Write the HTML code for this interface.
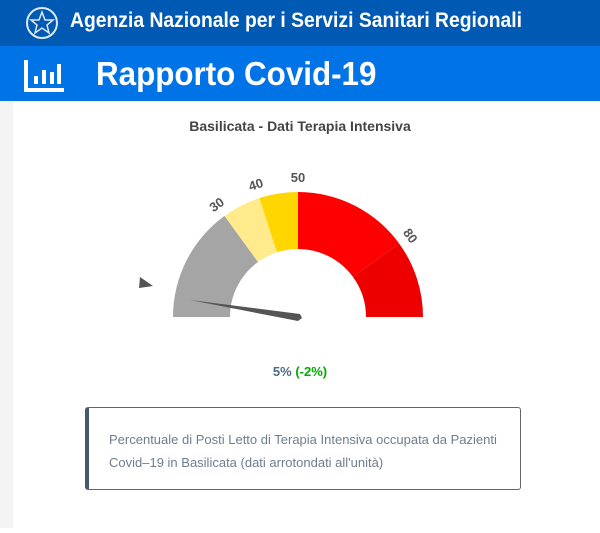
<!DOCTYPE html>
<html><head><meta charset="utf-8"><style>
body{margin:0;width:600px;height:533px;background:#fff;font-family:"Liberation Sans",sans-serif;position:relative;overflow:hidden}
.h1{position:absolute;left:0;top:0;width:600px;height:46px;background:#0059b3;color:#fff}
.h2{position:absolute;left:0;top:46px;width:600px;height:55px;background:#0073e6;color:#fff}
.strip{position:absolute;left:0;top:101px;width:13px;height:427px;background:#f4f4f4}
.box{position:absolute;left:85px;top:407px;width:431px;height:81px;border:1.5px solid #666;border-left:4px solid #455a70;border-radius:3px}
</style></head><body>
<div class="h1">
<svg style="position:absolute;left:24px;top:3px" width="36" height="40"><circle cx="18" cy="20" r="15" fill="none" stroke="#dfe8f3" stroke-width="2"/><polygon points="18,9 21,17 29,17 23,22 25,30 18,25 11,30 13,22 7,17 15,17" fill="none" stroke="#dfe8f3" stroke-width="1.5"/></svg>
<div style="position:absolute;left:70px;top:9px;font-size:21px;font-weight:bold;transform:scaleX(0.92);transform-origin:0 0;white-space:nowrap">Agenzia Nazionale per i Servizi Sanitari Regionali</div>
</div>
<div class="h2">
<svg style="position:absolute;left:24px;top:12px" width="42" height="36"><path d="M2 2V32H40" fill="none" stroke="#fff" stroke-width="4"/><rect x="10" y="18" width="4" height="8" fill="#fff"/><rect x="18" y="12" width="4" height="14" fill="#fff"/><rect x="26" y="14" width="4" height="12" fill="#fff"/><rect x="33" y="6" width="4" height="20" fill="#fff"/></svg>
<div style="position:absolute;left:96px;top:9px;font-size:33px;font-weight:bold;transform:scaleX(0.95);transform-origin:0 0;white-space:nowrap">Rapporto Covid-19</div>
</div>
<div class="strip"></div>
<div style="position:absolute;left:0;width:600px;top:118px;text-align:center;font-size:14px;font-weight:bold;color:#444">Basilicata - Dati Terapia Intensiva</div>
<svg style="position:absolute;left:0;top:0" width="600" height="533">
<path d="M173 317A125 125 0 0 1 224.5 215.9L258 262A68 68 0 0 0 230 317Z" fill="#a5a5a5"/>
<path d="M224.5 215.9A125 125 0 0 1 259.4 198.1L277 252.3A68 68 0 0 0 258 262Z" fill="#ffea8c"/>
<path d="M259.4 198.1A125 125 0 0 1 298 192L298 249A68 68 0 0 0 277 252.3Z" fill="#ffd600"/>
<path d="M298 192A125 125 0 0 1 399.1 243.5L353 277A68 68 0 0 0 298 249Z" fill="#fe0000"/>
<path d="M399.1 243.5A125 125 0 0 1 423 317L366 317A68 68 0 0 0 353 277Z" fill="#ec0000"/>
<polygon points="190,300 300,314 302,318 298,321" fill="#555"/>
<polygon points="140,277 153,286 139,288" fill="#555"/>
<g font-family="Liberation Sans,sans-serif" font-size="13" font-weight="bold" fill="#555" text-anchor="middle">
<text x="217" y="209" transform="rotate(-36 217 205)">30</text>
<text x="256" y="189" transform="rotate(-18 256 185)">40</text>
<text x="298" y="182">50</text>
<text x="410" y="240" transform="rotate(54 410 236)">80</text>
</g>
</svg>
<div style="position:absolute;left:0;width:600px;top:364px;text-align:center;font-size:13px;font-weight:bold;color:#4a6a85">5% <span style="color:#0a0">(-2%)</span></div>
<div class="box"><div style="position:absolute;left:20px;top:20px;font-size:13px;line-height:23px;color:#6f7d8c;white-space:nowrap">Percentuale di Posti Letto di Terapia Intensiva occupata da Pazienti<br>Covid–19 in Basilicata (dati arrotondati all'unità)</div></div>
</body></html>
